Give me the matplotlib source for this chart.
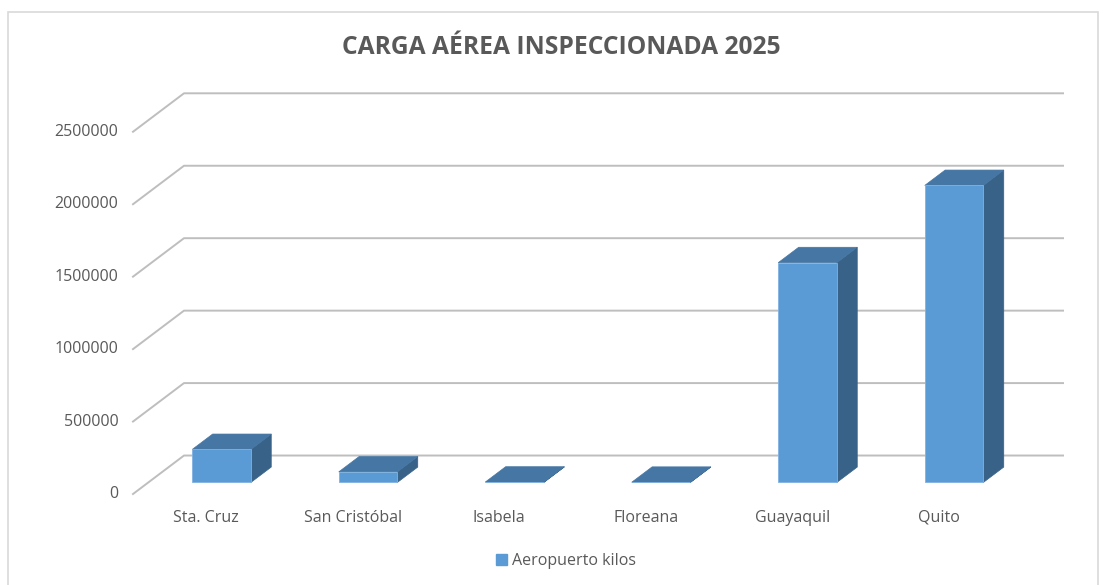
import numpy as np
import matplotlib
matplotlib.use("Agg")
import matplotlib.pyplot as plt
from matplotlib.patches import Polygon, Patch, Rectangle

# %% data
categories = ["Sta. Cruz", "San Cristóbal", "Isabela", "Floreana", "Guayaquil", "Quito"]
kilos = [228000, 73000, 2500, 1500, 1517000, 2050000]
ticks = [0, 500000, 1000000, 1500000, 2000000, 2500000]
title = "CARGA AÉREA INSPECCIONADA 2025"
series_name = "Aeropuerto kilos"

# %% look
plt.rcParams['font.family'] = ['Open Sans', 'DejaVu Sans']
W, H = 1106, 585
front_c = "#5B9BD5"
top_c = "#4676A4"
side_c = "#386287"
grid_c = "#BEBEBE"
text_c = "#595959"

# oblique depth: one unit of depth moves this much in data units
px_per_cat = 146.5
px_per_val = 72.5 / 500000
depth_x = 51 / px_per_cat
depth_y = 38.5 / px_per_val


def proj(x, y, z):
    return (x + depth_x * z, y + depth_y * z)


fig = plt.figure(figsize=(W / 100, H / 100), dpi=100)
ax = fig.add_axes([133 / W, (H - 494) / H, 930 / W, (494 - 93.3) / H])
ax.set_xlim(0, len(categories) + depth_x)
ax.set_ylim(0, ticks[-1] + depth_y)
ax.axis("off")

# chart frame
fig.patches.append(Rectangle((8 / W, -0.1), 1090 / W, 1.1 - 12 / H,
                             transform=fig.transFigure, fill=False,
                             edgecolor="#D9D9D9", lw=1.2))

# gridlines on side wall and back wall
n = len(categories)
for v in ticks:
    p0 = proj(0, v, 0)
    p1 = proj(0, v, 1)
    p2 = proj(n, v, 1)
    ax.plot([p0[0], p1[0], p2[0]], [p0[1], p1[1], p2[1]], color=grid_c,
            lw=1.4, clip_on=False, zorder=1)
    ax.text(-0.1, v, f"{v}", ha="right", va="center", fontsize=11.5,
            color=text_c)

# 3d bars
bw = 0.4
z0, z1 = 0.3, 0.7
for i, val in enumerate(kilos):
    xl, xr = i + 0.5 - bw / 2, i + 0.5 + bw / 2
    front = [proj(xl, 0, z0), proj(xr, 0, z0), proj(xr, val, z0), proj(xl, val, z0)]
    top = [proj(xl, val, z0), proj(xr, val, z0), proj(xr, val, z1), proj(xl, val, z1)]
    side = [proj(xr, 0, z0), proj(xr, 0, z1), proj(xr, val, z1), proj(xr, val, z0)]
    ax.add_patch(Polygon(side, closed=True, facecolor=side_c, edgecolor=side_c,
                         lw=0.5, zorder=3, clip_on=False))
    ax.add_patch(Polygon(top, closed=True, facecolor=top_c, edgecolor=top_c,
                         lw=0.5, zorder=3, clip_on=False))
    ax.add_patch(Polygon(front, closed=True, facecolor=front_c, edgecolor="#7FB2E0",
                         lw=0.6, zorder=4, clip_on=False))
    ax.annotate(categories[i], (i + 0.5, 0), xytext=(0, -24),
                textcoords="offset pixels", ha="center", va="center",
                fontsize=11.5, color=text_c)

fig.text(561 / W, 1 - 48 / H, title, ha="center", va="center",
         fontsize=17.7, fontweight="bold", color=text_c)

fig.legend(handles=[Patch(facecolor=front_c, edgecolor=front_c, label=series_name)],
           loc="center", bbox_to_anchor=(566 / W, 1 - 561 / H), frameon=False,
           fontsize=11.5, labelcolor=text_c, handlelength=0.7, handleheight=0.7,
           handletextpad=0.3)

fig.savefig("out.png", dpi=100, facecolor="white")
